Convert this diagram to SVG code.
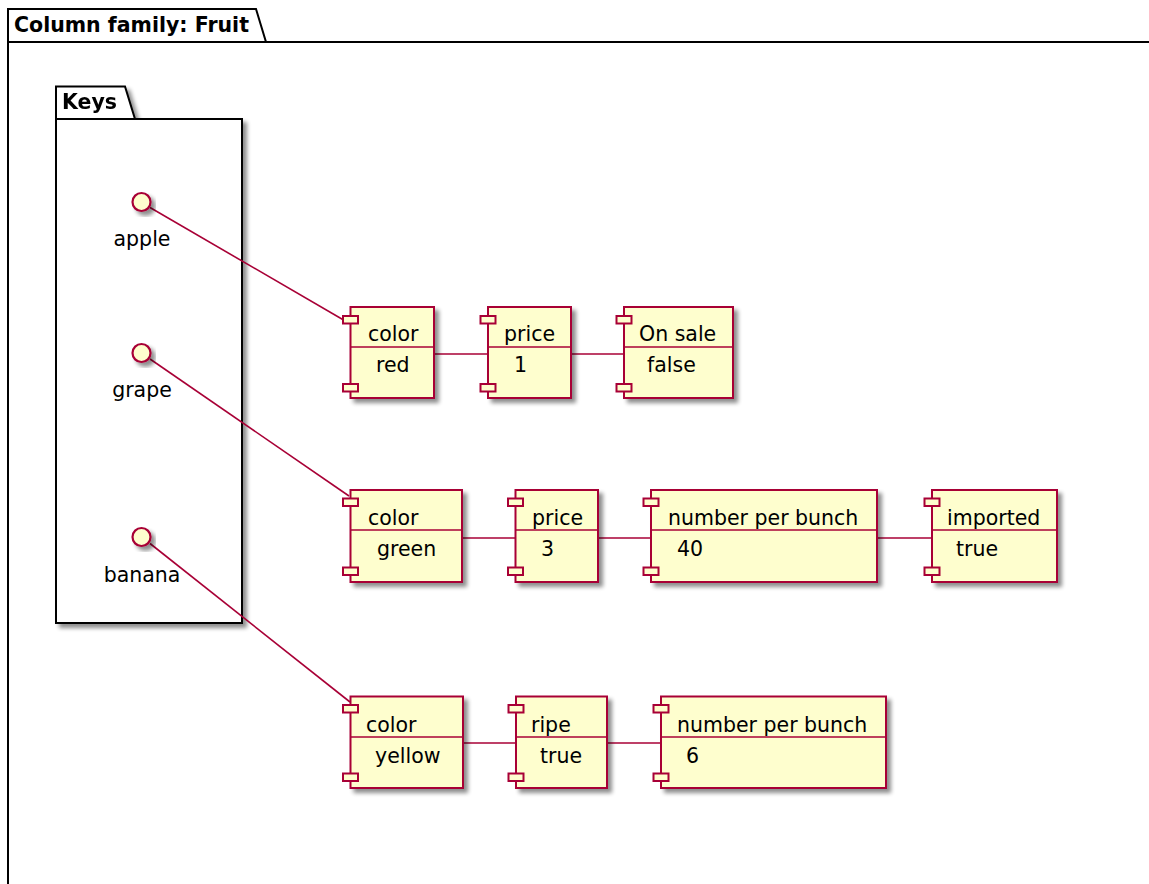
<svg xmlns="http://www.w3.org/2000/svg" width="1149" height="884" viewBox="0 0 1149 884">
<defs>
<filter id="sh" x="-20%" y="-20%" width="150%" height="150%">
<feGaussianBlur in="SourceAlpha" stdDeviation="2.2"/>
<feOffset dx="4" dy="4" result="b"/>
<feComponentTransfer><feFuncA type="linear" slope="0.45"/></feComponentTransfer>
<feMerge><feMergeNode/><feMergeNode in="SourceGraphic"/></feMerge>
</filter>
<style>
text{font-family:"DejaVu Sans",Verdana,sans-serif;font-size:20.5px;fill:#000}
.b{font-weight:bold}
.pkg{fill:#fff;stroke:#000;stroke-width:2}
.cmp{fill:#FEFECE;stroke:#A80036;stroke-width:2}
.ln{stroke:#A80036;stroke-width:1.6;fill:none}
.ifc{fill:#FEFECE;stroke:#A80036;stroke-width:2.2}
</style>
</defs>
<rect width="1149" height="884" fill="#fff"/>
<g id="pkg-fruit">
<path class="pkg" d="M8,9 H256 L266,42 H1152 V890 H8 Z"/>
<line x1="8" y1="42" x2="266" y2="42" stroke="#000" stroke-width="2"/>
<text class="b" x="14" y="31.5">Column family: Fruit</text>
</g>
<g id="pkg-keys" filter="url(#sh)">
<path class="pkg" d="M56,86.5 H125 L135,119 H242 V623 H56 Z"/>
<line x1="56" y1="119" x2="135" y2="119" stroke="#000" stroke-width="2"/>
<text class="b" x="62" y="109">Keys</text>
</g>
<g id="connectors">
<line class="ln" x1="150" y1="207.5" x2="347" y2="322"/>
<line class="ln" x1="150" y1="359" x2="349" y2="496"/>
<line class="ln" x1="150" y1="543.5" x2="350" y2="702"/>
<line class="ln" x1="434" y1="354" x2="488" y2="354"/>
<line class="ln" x1="571" y1="354" x2="624" y2="354"/>
<line class="ln" x1="462" y1="538" x2="515.5" y2="538"/>
<line class="ln" x1="598" y1="538" x2="651" y2="538"/>
<line class="ln" x1="877" y1="538" x2="932" y2="538"/>
<line class="ln" x1="463" y1="743" x2="516" y2="743"/>
<line class="ln" x1="607" y1="743" x2="661" y2="743"/>
</g>
<g id="apple" filter="url(#sh)">
<circle class="ifc" cx="141.5" cy="202" r="9"/>
</g>
<text x="142" y="246" text-anchor="middle">apple</text>
<g id="grape" filter="url(#sh)">
<circle class="ifc" cx="141.5" cy="353" r="9"/>
</g>
<text x="142" y="397" text-anchor="middle">grape</text>
<g id="banana" filter="url(#sh)">
<circle class="ifc" cx="141.5" cy="537" r="9"/>
</g>
<text x="142" y="582" text-anchor="middle">banana</text>

<g id="apple-color">
<g filter="url(#sh)"><rect class="cmp" x="350.5" y="307" width="83.5" height="91"/></g>
<rect class="cmp" x="343" y="316" width="15" height="7.5"/>
<rect class="cmp" x="343" y="384" width="15" height="7.5"/>
<line class="ln" x1="350.5" y1="347" x2="434" y2="347" stroke-width="1.4"/>
<text x="368" y="341">color</text><text x="376" y="372">red</text>
</g>
<g id="apple-price">
<g filter="url(#sh)"><rect class="cmp" x="488" y="307" width="83" height="91"/></g>
<rect class="cmp" x="480.5" y="316" width="15" height="7.5"/>
<rect class="cmp" x="480.5" y="384" width="15" height="7.5"/>
<line class="ln" x1="488" y1="347" x2="571" y2="347" stroke-width="1.4"/>
<text x="504" y="341">price</text><text x="514" y="372">1</text>
</g>
<g id="apple-onsale">
<g filter="url(#sh)"><rect class="cmp" x="624" y="307" width="109" height="91"/></g>
<rect class="cmp" x="616.5" y="316" width="15" height="7.5"/>
<rect class="cmp" x="616.5" y="384" width="15" height="7.5"/>
<line class="ln" x1="624" y1="347" x2="733" y2="347" stroke-width="1.4"/>
<text x="639" y="341">On sale</text><text x="647" y="372">false</text>
</g>

<g id="grape-color">
<g filter="url(#sh)"><rect class="cmp" x="350.5" y="490" width="111.5" height="92"/></g>
<rect class="cmp" x="343" y="498.5" width="15" height="7.5"/>
<rect class="cmp" x="343" y="567.5" width="15" height="7.5"/>
<line class="ln" x1="350.5" y1="530" x2="462" y2="530" stroke-width="1.4"/>
<text x="368" y="525">color</text><text x="377" y="556">green</text>
</g>
<g id="grape-price">
<g filter="url(#sh)"><rect class="cmp" x="515.5" y="490" width="82.5" height="92"/></g>
<rect class="cmp" x="508" y="498.5" width="15" height="7.5"/>
<rect class="cmp" x="508" y="567.5" width="15" height="7.5"/>
<line class="ln" x1="515.5" y1="530" x2="598" y2="530" stroke-width="1.4"/>
<text x="532" y="525">price</text><text x="541" y="556">3</text>
</g>
<g id="grape-npb">
<g filter="url(#sh)"><rect class="cmp" x="651" y="490" width="226" height="92"/></g>
<rect class="cmp" x="643.5" y="498.5" width="15" height="7.5"/>
<rect class="cmp" x="643.5" y="567.5" width="15" height="7.5"/>
<line class="ln" x1="651" y1="530" x2="877" y2="530" stroke-width="1.4"/>
<text x="668" y="525">number per bunch</text><text x="677" y="556">40</text>
</g>
<g id="grape-imported">
<g filter="url(#sh)"><rect class="cmp" x="932" y="490" width="125" height="92"/></g>
<rect class="cmp" x="924.5" y="498.5" width="15" height="7.5"/>
<rect class="cmp" x="924.5" y="567.5" width="15" height="7.5"/>
<line class="ln" x1="932" y1="530" x2="1057" y2="530" stroke-width="1.4"/>
<text x="947" y="525">imported</text><text x="956" y="556">true</text>
</g>

<g id="banana-color">
<g filter="url(#sh)"><rect class="cmp" x="350.5" y="696.5" width="112.5" height="91.5"/></g>
<rect class="cmp" x="343" y="705" width="15" height="7.5"/>
<rect class="cmp" x="343" y="773.5" width="15" height="7.5"/>
<line class="ln" x1="350.5" y1="737" x2="463" y2="737" stroke-width="1.4"/>
<text x="366" y="731.5">color</text><text x="375" y="762.5">yellow</text>
</g>
<g id="banana-ripe">
<g filter="url(#sh)"><rect class="cmp" x="516" y="696.5" width="91" height="91.5"/></g>
<rect class="cmp" x="508.5" y="705" width="15" height="7.5"/>
<rect class="cmp" x="508.5" y="773.5" width="15" height="7.5"/>
<line class="ln" x1="516" y1="737" x2="607" y2="737" stroke-width="1.4"/>
<text x="531" y="731.5">ripe</text><text x="540" y="762.5">true</text>
</g>
<g id="banana-npb">
<g filter="url(#sh)"><rect class="cmp" x="661" y="696.5" width="225" height="91.5"/></g>
<rect class="cmp" x="653.5" y="705" width="15" height="7.5"/>
<rect class="cmp" x="653.5" y="773.5" width="15" height="7.5"/>
<line class="ln" x1="661" y1="737" x2="886" y2="737" stroke-width="1.4"/>
<text x="677" y="731.5">number per bunch</text><text x="686" y="762.5">6</text>
</g>
</svg>
